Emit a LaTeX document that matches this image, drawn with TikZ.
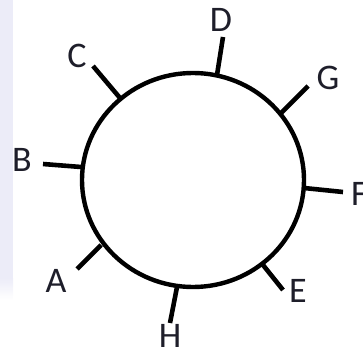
\documentclass[tikz,border=0pt]{standalone}
\usepackage{fontspec}
\setmainfont{Carlito}
\usetikzlibrary{calc}
\definecolor{stripe}{HTML}{ECECF8}
\definecolor{ink}{HTML}{1E1E2A}

\begin{document}
\begin{tikzpicture}[x=1pt,y=-1pt,
    tick/.style={line width=4.6pt,black},
    lbl/.style={font=\fontsize{36}{36}\selectfont,ink,inner sep=0pt,anchor=base}]
  \useasboundingbox (0,0) rectangle (363,352);
  % Left stripe
  \fill[stripe] (0,0) rectangle (13,278);
  \shade[top color=stripe,bottom color=white] (0,278) rectangle (13,300);

  % Ring
  \coordinate (ctr) at (193,180);
  \draw[line width=4.4pt] (ctr) ellipse [x radius=111, y radius=107];

  % Points on the ring and tick ends
  \coordinate (dA) at (101,245); \coordinate (tA) at (77,269);
  \coordinate (dB) at (81,167);  \coordinate (tB) at (43,164);
  \coordinate (dC) at (120,98);  \coordinate (tC) at (93,66);
  \coordinate (dD) at (217,75);  \coordinate (tD) at (223,37);
  \coordinate (dE) at (263,265); \coordinate (tE) at (283,290);
  \coordinate (dF) at (304,188); \coordinate (tF) at (343,192);
  \coordinate (dG) at (281,113); \coordinate (tG) at (308,86);
  \coordinate (dH) at (177,287); \coordinate (tH) at (170,323);

  \foreach \p in {A,B,C,D,E,F,G,H}
    \draw[tick] (d\p) -- (t\p);

  % Labels
  \node[lbl] (lA) at (56,292) {A};
  \node[lbl] (lB) at (22,172) {B};
  \node[lbl] (lC) at (77,68) {C};
  \node[lbl] (lD) at (221,32) {D};
  \node[lbl] (lE) at (298,302) {E};
  \node[lbl,anchor=base west] (lF) at (351,205) {F};
  \node[lbl] (lG) at (328,90) {G};
  \node[lbl] (lH) at (170,347) {H};
\end{tikzpicture}
\end{document}
